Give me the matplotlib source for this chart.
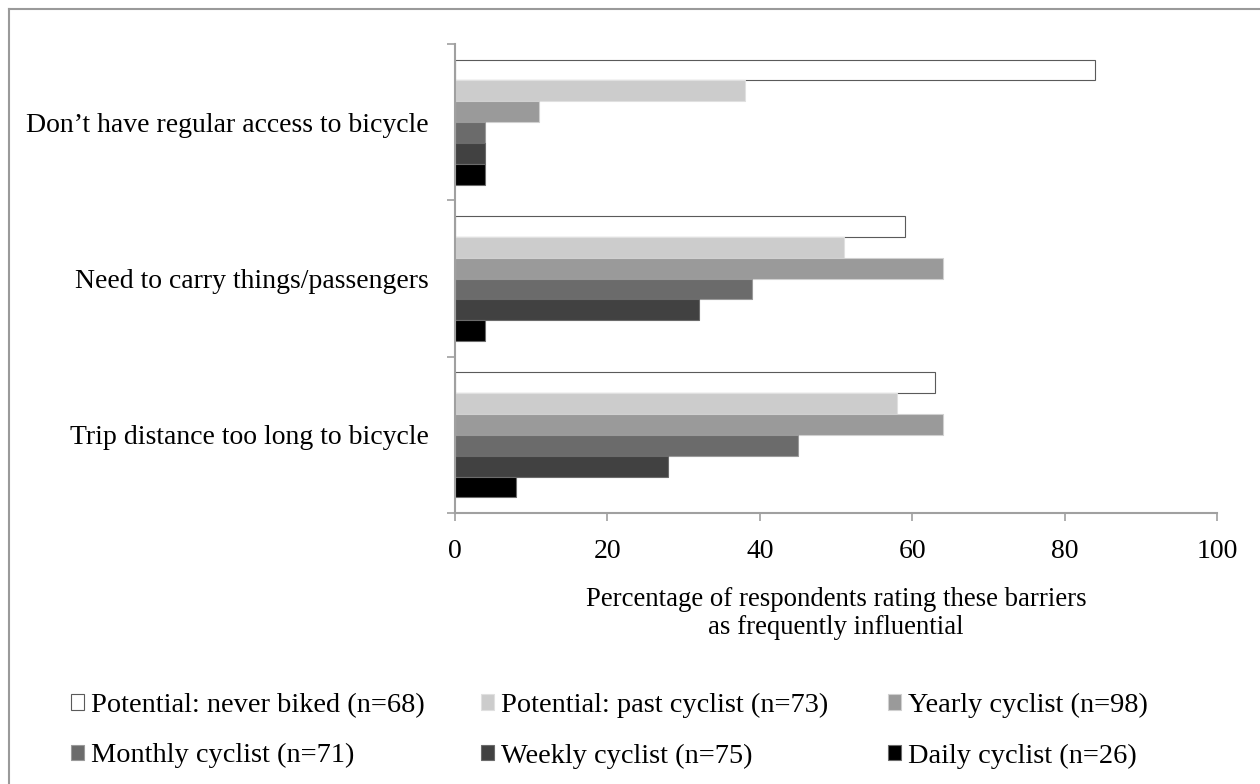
import matplotlib
matplotlib.use("Agg")
import matplotlib.pyplot as plt
from matplotlib.lines import Line2D
import numpy as np

categories = ["Don\u2019t have regular access to bicycle",
              "Need to carry things/passengers",
              "Trip distance too long to bicycle"]
series_names = ["Potential: never biked (n=68)",
                "Potential: past cyclist (n=73)",
                "Yearly cyclist (n=98)",
                "Monthly cyclist (n=71)",
                "Weekly cyclist (n=75)",
                "Daily cyclist (n=26)"]
never_biked = [84, 59, 63]
past_cyclist = [38, 51, 58]
yearly = [11, 64, 64]
monthly = [4, 39, 45]
weekly = [4, 32, 28]
daily = [4, 4, 8]
x_ticks = [0, 20, 40, 60, 80, 100]
xlabel = "Percentage of respondents rating these barriers\nas frequently influential"

values = [never_biked, past_cyclist, yearly, monthly, weekly, daily]
colors = ["#ffffff", "#cccccc", "#9a9a9a", "#6b6b6b", "#414141", "#000000"]
edges = ["#5a5a5a", "#e0e0e0", "#d0d0d0", "#9a9a9a", "#6b6b6b", "#6b6b6b"]

plt.rcParams['font.family'] = ['Liberation Serif']
FS = 20

W, H = 1260, 784
fig = plt.figure(figsize=(W / 100, H / 100), dpi=100)
ax = fig.add_axes([455 / W, 1 - 513 / H, (1217 - 455) / W, (513 - 44) / H])

n = len(values)
h = 0.1335
ypos = np.arange(len(categories))
handles = []
for j, (vals, c, e) in enumerate(zip(values, colors, edges)):
    b = ax.barh(ypos + (j - (n - 1) / 2) * h, vals, height=h, color=c,
                edgecolor=e, linewidth=0.8, label=series_names[j])
    handles.append(b)

ax.set_xlim(0, 100)
ax.set_ylim(-0.5, len(categories) - 0.5)
ax.invert_yaxis()
ax.set_xticks(x_ticks)
ax.set_xticklabels([str(t) for t in x_ticks], fontsize=FS)
ax.set_yticks(np.arange(-0.5, len(categories), 1.0))
ax.set_yticklabels([])
ax.set_yticks(ypos, minor=True)
ax.set_yticklabels(categories, minor=True, fontsize=FS)
ax.tick_params(axis='y', which='minor', length=0, pad=19)
ax.tick_params(axis='y', which='major', length=6, color='#a0a0a0', width=1.2)
ax.tick_params(axis='x', length=6, color='#a0a0a0', width=1.2, pad=12.5)
for s in ['top', 'right']:
    ax.spines[s].set_visible(False)
for s in ['left', 'bottom']:
    ax.spines[s].set_color('#a0a0a0')
    ax.spines[s].set_linewidth(1.5)
ax.set_xlabel(xlabel, fontsize=19.3, labelpad=17, linespacing=1.15)

# legend in three columns
cols = [[0, 3], [1, 4], [2, 5]]
col_x = [71, 481, 888]
for cidx, xs in zip(cols, col_x):
    fig.legend([handles[i] for i in cidx], [series_names[i] for i in cidx],
               loc='upper left', bbox_to_anchor=(xs / W, 1 - 693 / H),
               frameon=False, fontsize=20.4, handlelength=0.45, handleheight=0.45,
               handletextpad=0.25, labelspacing=0.89, borderaxespad=0, borderpad=0)

# partial frame (top and left)
fig.add_artist(Line2D([8.5 / W, 8.5 / W], [0, 1 - 8.5 / H], transform=fig.transFigure,
                      color='#9a9a9a', lw=1.5))
fig.add_artist(Line2D([8.5 / W, 1], [1 - 8.5 / H, 1 - 8.5 / H], transform=fig.transFigure,
                      color='#9a9a9a', lw=1.5))

fig.savefig("out.png", dpi=100)
